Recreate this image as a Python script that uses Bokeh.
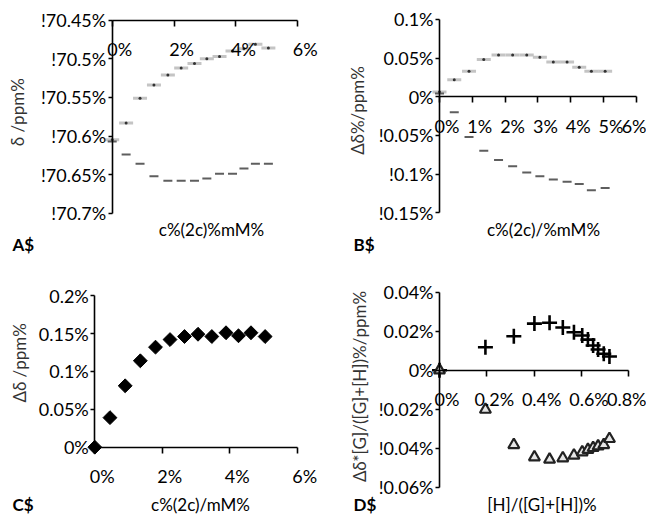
import math
from bokeh.plotting import figure
from bokeh.layouts import gridplot
from bokeh.models import Range1d, Label, FixedTicker, LinearAxis, CustomJSTickFormatter
from bokeh.embed import file_html
from bokeh.resources import INLINE

# ---------------- data ----------------
conc_mM = [0.0, 0.45, 0.90, 1.35, 1.80, 2.23, 2.66, 3.06, 3.47, 3.89, 4.26, 4.63, 5.05]
delta_upper = [-70.605, -70.583, -70.551, -70.534, -70.521, -70.512, -70.506,
               -70.500, -70.497, -70.490, -70.487, -70.481, -70.486]
delta_lower = [-70.607, -70.624, -70.636, -70.652, -70.658, -70.658, -70.658,
               -70.655, -70.649, -70.649, -70.642, -70.636, -70.636]
ddelta_upper = [0.006, 0.022, 0.033, 0.048, 0.054, 0.054, 0.054,
                0.051, 0.045, 0.045, 0.038, 0.033, 0.033]
ddelta_lower = [0.004, -0.020, -0.052, -0.070, -0.082, -0.090, -0.098,
                -0.103, -0.107, -0.110, -0.113, -0.121, -0.118]
ddelta_total = [0.0, 0.039, 0.081, 0.114, 0.132, 0.142, 0.146,
                0.149, 0.146, 0.151, 0.147, 0.151, 0.146]
h_fraction = [0.0, 0.194, 0.314, 0.401, 0.465, 0.521, 0.568,
              0.603, 0.627, 0.649, 0.670, 0.694, 0.718]
job_plus = [0.0, 0.0118, 0.0174, 0.0239, 0.0243, 0.0219, 0.0195,
            0.0178, 0.0157, 0.0127, 0.0106, 0.0084, 0.0070]
job_tri = [0.0, -0.0202, -0.0383, -0.0446, -0.0458, -0.0451, -0.0437,
           -0.0420, -0.0408, -0.0398, -0.0390, -0.0383, -0.0352]

# tick values / labels
a_yticks = [-70.7, -70.65, -70.6, -70.55, -70.5, -70.45]
a_ylabels = ["!70.7%", "!70.65%", "!70.6%", "!70.55%", "!70.5%", "!70.45%"]
a_xticks = [0, 2, 4, 6]
a_xlabels = ["0%", "2%", "4%", "6%"]
b_yticks = [-0.15, -0.1, -0.05, 0, 0.05, 0.1]
b_ylabels = ["!0.15%", "!0.1%", "!0.05%", "0%", "0.05%", "0.1%"]
b_xticks = [0, 1, 2, 3, 4, 5, 6]
b_xlabels = ["0%", "1%", "2%", "3%", "4%", "5%", "6%"]
c_yticks = [0, 0.05, 0.1, 0.15, 0.2]
c_ylabels = ["0%", "0.05%", "0.1%", "0.15%", "0.2%"]
c_xticks = [0, 2, 4, 6]
c_xlabels = ["0%", "2%", "4%", "6%"]
d_yticks = [-0.06, -0.04, -0.02, 0, 0.02, 0.04]
d_ylabels = ["!0.06%", "!0.04%", "!0.02%", "0%", "0.02%", "0.04%"]
d_xticks = [0, 0.2, 0.4, 0.6, 0.8]
d_xlabels = ["0%", "0.2%", "0.4%", "0.6%", "0.8%"]

FONT = "Lato"
TICK_FS = "18px"
TITLE_FS = "17px"

COL_W = 323
ROW1_H = 257
ROW2_H = 259


def make_panel(origin, W, H, xmap, ymap, xbounds, ybounds, xfix, yfix,
               xticks, xlabels, yticks, ylabels):
    # mapping given in page pixels; the plotting frame fills the whole canvas
    ox, oy = origin
    x0, px0, kx = xmap
    y0, py0, ky = ymap

    def dx(px):
        return x0 + (px - px0) / kx

    def dy(py):
        return y0 - (py - py0) / ky

    p = figure(width=W, height=H,
               x_range=Range1d(dx(ox), dx(ox + W)),
               y_range=Range1d(dy(oy + H), dy(oy)),
               min_border=0, min_border_left=0, min_border_right=0,
               min_border_top=0, min_border_bottom=0,
               output_backend="svg", toolbar_location=None,
               outline_line_color=None, background_fill_color="white",
               border_fill_color="white")
    p.grid.visible = False

    # x axis: line + ticks
    xa = p.xaxis[0]
    xa.fixed_location = xfix
    xa.bounds = xbounds
    xa.ticker = FixedTicker(ticks=xticks)
    xa.formatter = CustomJSTickFormatter(code="return ''")
    xa.axis_line_width = 1.6
    xa.axis_line_color = "black"
    xa.major_tick_line_width = 1.6
    xa.major_tick_line_color = "black"
    xa.major_tick_out = 6
    xa.major_tick_in = 0
    xa.minor_tick_line_color = None

    # x tick labels on a slightly shifted range (labels sit right of the ticks)
    shift = 7.5 / kx
    p.extra_x_ranges = {"lab": Range1d(dx(ox) - shift, dx(ox + W) - shift)}
    lab = LinearAxis(x_range_name="lab", fixed_location=xfix,
                     ticker=FixedTicker(ticks=xticks),
                     major_label_overrides={t: l for t, l in zip(xticks, xlabels)},
                     axis_line_color=None, major_tick_line_color=None,
                     minor_tick_line_color=None, major_tick_in=0, major_tick_out=0,
                     major_label_standoff=18,
                     major_label_text_font=FONT, major_label_text_font_size=TICK_FS,
                     major_label_text_color="black")
    p.add_layout(lab, "below")

    # y axis
    ya = p.yaxis[0]
    ya.fixed_location = yfix
    ya.bounds = ybounds
    ya.ticker = FixedTicker(ticks=yticks)
    ya.major_label_overrides = {t: l for t, l in zip(yticks, ylabels)}
    ya.axis_line_width = 1.6
    ya.axis_line_color = "black"
    ya.major_tick_line_width = 1.6
    ya.major_tick_line_color = "black"
    ya.major_tick_out = 4
    ya.major_tick_in = 0
    ya.minor_tick_line_color = None
    ya.major_label_standoff = 2
    ya.major_label_text_font = FONT
    ya.major_label_text_font_size = TICK_FS
    ya.major_label_text_color = "black"
    return p, dx, dy


def add_text(p, dx, dy, px, py, text, angle=0.0, align="center", bold=False, color="black"):
    p.add_layout(Label(x=dx(px), y=dy(py), text=text, angle=angle,
                       text_align=align, text_baseline="middle",
                       text_font=FONT, text_font_size=TITLE_FS,
                       text_font_style="bold" if bold else "normal",
                       text_color=color))


# ---------------- panel A ----------------
pA, dxA, dyA = make_panel((0, 0), COL_W, ROW1_H, (0, 111.7, 30.93), (-70.45, 19.7, 772),
                          (0, 6), (-70.7, -70.45), -70.45, 0,
                          a_xticks, a_xlabels, a_yticks, a_ylabels)
pA.scatter(conc_mM, delta_upper, marker="dash", size=14, line_color="#c4c4c4", line_width=3)
pA.scatter(conc_mM, delta_upper, marker="circle", size=3, fill_color="#333333", line_color=None)
pA.scatter(conc_mM, delta_lower, marker="dash", size=9, line_color="#5e5e5e", line_width=2)
add_text(pA, dxA, dyA, 17, 112, "δ /ppm%", angle=math.pi / 2, color="#333333")
add_text(pA, dxA, dyA, 211, 229, "c%(2c)%mM%")
add_text(pA, dxA, dyA, 12, 244, "A$", align="left", bold=True)

# ---------------- panel B ----------------
pB, dxB, dyB = make_panel((COL_W, 0), COL_W, ROW1_H, (0, 439, 32.8), (0, 96.2, 773),
                          (0, 6), (-0.15, 0.1), 0, 0,
                          b_xticks, b_xlabels, b_yticks, b_ylabels)
pB.scatter(conc_mM, ddelta_upper, marker="dash", size=14, line_color="#c4c4c4", line_width=3)
pB.scatter(conc_mM, ddelta_upper, marker="circle", size=3, fill_color="#333333", line_color=None)
pB.scatter(conc_mM, ddelta_lower, marker="dash", size=9, line_color="#5e5e5e", line_width=2)
add_text(pB, dxB, dyB, 356.5, 110, "Δδ%/ppm%", angle=math.pi / 2, color="#333333")
add_text(pB, dxB, dyB, 543, 229, "c%(2c)/%mM%")
add_text(pB, dxB, dyB, 353, 244, "B$", align="left", bold=True)

# ---------------- panel C ----------------
pC, dxC, dyC = make_panel((0, ROW1_H), COL_W, ROW2_H, (0, 94.3, 33.73), (0, 446.7, 758),
                          (0, 6), (0, 0.2), 0, 0,
                          c_xticks, c_xlabels, c_yticks, c_ylabels)
pC.scatter(conc_mM, ddelta_total, marker="square", angle=math.pi / 4, size=9.8,
           fill_color="black", line_color="black")
add_text(pC, dxC, dyC, 18.5, 362.5, "Δδ /ppm%", angle=math.pi / 2, color="#333333")
add_text(pC, dxC, dyC, 200, 504, "c%(2c)/mM%")
add_text(pC, dxC, dyC, 12, 504, "C$", align="left", bold=True)

# ---------------- panel D ----------------
pD, dxD, dyD = make_panel((COL_W, ROW1_H), COL_W, ROW2_H, (0, 439, 236.7), (0, 369.7, 1950),
                          (0, 0.8), (-0.06, 0.04), 0, 0,
                          d_xticks, d_xlabels, d_yticks, d_ylabels)
pD.scatter(h_fraction, job_plus, marker="cross", size=15, line_color="black", line_width=2.6)
pD.scatter(h_fraction, job_tri, marker="triangle", size=11, fill_color="#e6e6e6",
           line_color="#222222", line_width=2.2)
add_text(pD, dxD, dyD, 358.5, 386, "Δδ*[G]/([G]+[H])%/ppm%", angle=math.pi / 2, color="#333333")
add_text(pD, dxD, dyD, 541.5, 504, "[H]/([G]+[H])%")
add_text(pD, dxD, dyD, 353, 504, "D$", align="left", bold=True)

grid = gridplot([[pA, pB], [pC, pD]], toolbar_location=None)

with open("out.html", "w") as f:
    f.write(file_html(grid, INLINE))
